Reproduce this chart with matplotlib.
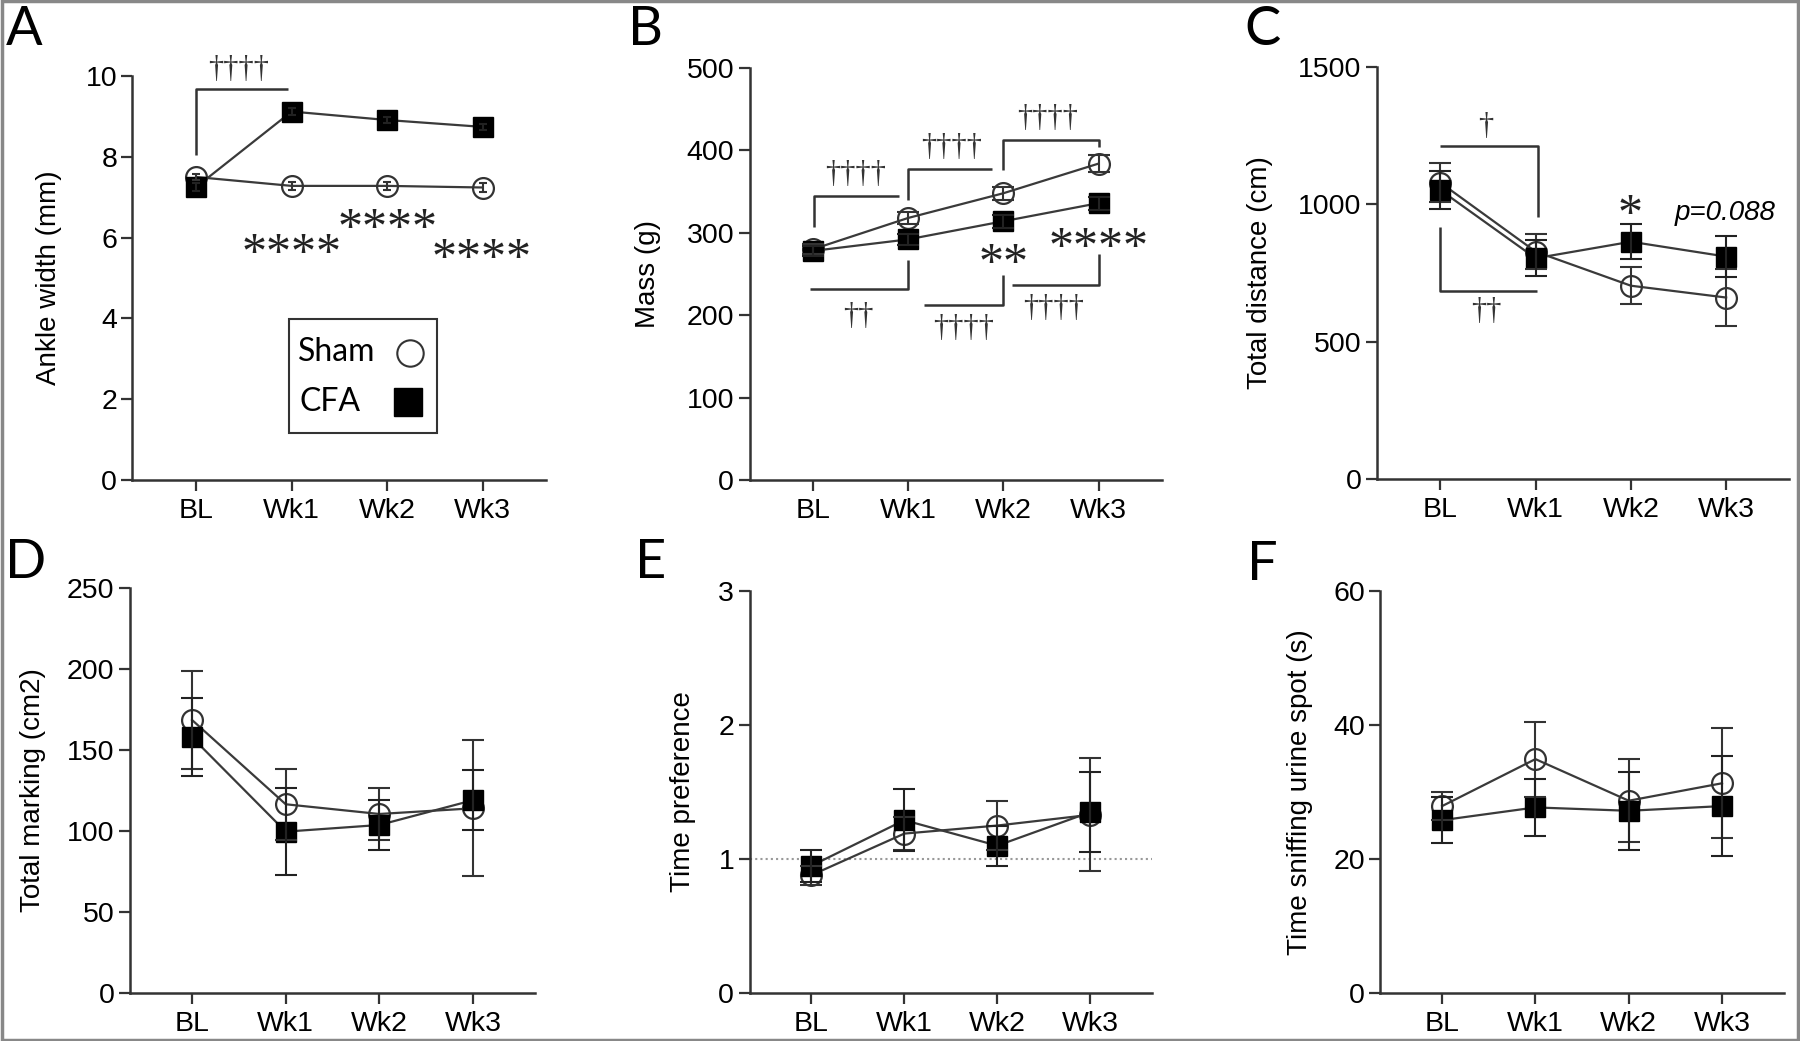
import matplotlib
matplotlib.use('Agg')
import matplotlib.pyplot as plt
from matplotlib.patches import Rectangle
import numpy as np

# ---------------- data ----------------
timepoints = ['BL', 'Wk1', 'Wk2', 'Wk3']

ankle_sham = [7.50, 7.28, 7.28, 7.24]
ankle_sham_err = [0.08, 0.10, 0.10, 0.10]
ankle_cfa = [7.25, 9.12, 8.91, 8.74]
ankle_cfa_err = [0.10, 0.08, 0.08, 0.08]

mass_sham = [280, 318, 348, 384]
mass_sham_err = [6, 7, 8, 10]
mass_cfa = [278, 292, 314, 336]
mass_cfa_err = [6, 7, 8, 8]

dist_sham = [1078, 827, 703, 660]
dist_sham_err = [70, 64, 68, 105]
dist_cfa = [1051, 803, 863, 809]
dist_cfa_err = [70, 65, 64, 76]

mark_sham = [168.5, 116.5, 110.5, 114]
mark_sham_err = [30, 22, 16, 42]
mark_cfa = [157.8, 99.6, 103.7, 119]
mark_cfa_err = [24, 27, 15.5, 18.5]

pref_sham = [0.88, 1.19, 1.25, 1.33]
pref_sham_err = [0.07, 0.12, 0.18, 0.42]
pref_cfa = [0.95, 1.29, 1.10, 1.35]
pref_cfa_err = [0.12, 0.23, 0.15, 0.30]

sniff_sham = [27.9, 34.9, 28.7, 31.3]
sniff_sham_err = [2.1, 5.6, 6.2, 8.2]
sniff_cfa = [25.8, 27.7, 27.2, 27.9]
sniff_cfa_err = [3.4, 4.2, 5.8, 7.5]

ylabels = ['Ankle width (mm)', 'Mass (g)', 'Total distance (cm)',
           'Total marking (cm2)', 'Time preference', 'Time sniffing urine spot (s)']
panel_letters = ['A', 'B', 'C', 'D', 'E', 'F']
yticks_list = [[0, 2, 4, 6, 8, 10], [0, 100, 200, 300, 400, 500], [0, 500, 1000, 1500],
               [0, 50, 100, 150, 200, 250], [0, 1, 2, 3], [0, 20, 40, 60]]

# ---------------- style ----------------
SANS = ['Liberation Sans', 'DejaVu Sans']
SERIF = ['Liberation Serif', 'DejaVu Serif']
plt.rcParams['font.family'] = SANS
AX_C = '#333333'
LINE_C = '#3a3a3a'
EDGE_C = '#333333'

fig = plt.figure(figsize=(18, 10.41), dpi=100)

rects = [[0.0736, 0.5389, 0.2297, 0.3881],
         [0.4164, 0.5389, 0.2289, 0.3958],
         [0.7650, 0.5399, 0.2289, 0.3961],
         [0.0721, 0.0461, 0.2250, 0.3891],
         [0.4164, 0.0458, 0.2234, 0.3868],
         [0.7667, 0.0458, 0.2242, 0.3868]]
label_x = [-0.202, -0.246, -0.284, -0.240, -0.165, -0.198]
letter_pos = [(0.0030, 0.9568), (0.349, 0.9568), (0.6915, 0.9568),
              (0.0025, 0.4448), (0.3530, 0.4448), (0.6925, 0.4428)]
capsizes = [3, 8, 8, 8, 8, 8]

series = [(ankle_sham, ankle_sham_err, ankle_cfa, ankle_cfa_err),
          (mass_sham, mass_sham_err, mass_cfa, mass_cfa_err),
          (dist_sham, dist_sham_err, dist_cfa, dist_cfa_err),
          (mark_sham, mark_sham_err, mark_cfa, mark_cfa_err),
          (pref_sham, pref_sham_err, pref_cfa, pref_cfa_err),
          (sniff_sham, sniff_sham_err, sniff_cfa, sniff_cfa_err)]

axes = []
x = np.arange(len(timepoints))
for i in range(6):
    ax = fig.add_axes(rects[i])
    axes.append(ax)
    ys, es, yc, ec = series[i]
    ax.plot(x, ys, '-', color=LINE_C, lw=1.6, zorder=2)
    ax.plot(x, yc, '-', color=LINE_C, lw=1.6, zorder=2)
    ax.plot(x, ys, 'o', ms=15, mfc='none', mec=EDGE_C, mew=1.6, zorder=3)
    ax.plot(x, yc, 's', ms=14.5, mfc='black', mec='black', mew=1, zorder=3.5)
    ax.errorbar(x, ys, yerr=es, fmt='none', ecolor=EDGE_C, elinewidth=1.5,
                capsize=capsizes[i], capthick=1.5, zorder=4)
    ax.errorbar(x, yc, yerr=ec, fmt='none', ecolor='#222222', elinewidth=1.5,
                capsize=capsizes[i], capthick=1.5, zorder=4)
    yt = yticks_list[i]
    ax.set_ylim(yt[0], yt[-1])
    ax.set_yticks(yt)
    ax.set_xlim(-0.665, 3.66)
    ax.set_xticks(x)
    ax.set_xticklabels(timepoints)
    for s in ['top', 'right']:
        ax.spines[s].set_visible(False)
    for s in ['left', 'bottom']:
        ax.spines[s].set_color(AX_C)
        ax.spines[s].set_linewidth(1.8)
    ax.tick_params(axis='both', direction='out', length=8, width=1.6,
                   color=AX_C, labelsize=20.5, pad=3)
    ax.tick_params(axis='x', pad=5)
    ax.set_ylabel(ylabels[i], fontsize=20)
    ax.yaxis.label.set_va('center')
    ax.yaxis.set_label_coords(label_x[i], 0.5)
    fig.text(letter_pos[i][0], letter_pos[i][1], panel_letters[i],
             fontsize=39, family=['Lato', 'DejaVu Sans'], va='baseline', ha='left')


def bracket(ax, xs, ys):
    ax.plot(xs, ys, color=AX_C, lw=1.8, clip_on=False, zorder=5,
            solid_capstyle='butt')


def dagger(ax, s, xx, yy):
    ax.text(xx, yy, s, fontsize=22, family=SERIF, ha='center', va='center',
            color='#333333', clip_on=False)


def stars(ax, s, xx, yy):
    ax.annotate(s, (xx, yy), xytext=(0, -17), textcoords='offset points',
                fontsize=36, family=SERIF, ha='center', va='baseline',
                color='#222222', annotation_clip=False)


# ---- panel A annotations ----
axA = axes[0]
bracket(axA, [0, 0, 0.963], [8.04, 9.68, 9.68])
dagger(axA, '††††', 0.45, 10.17)
stars(axA, '****', 1.0, 5.86)
stars(axA, '****', 2.0, 6.48)
stars(axA, '****', 2.99, 5.74)
# legend box
axA.add_patch(Rectangle((0.378, 0.116), 0.358, 0.2825, transform=axA.transAxes,
                        fill=False, edgecolor=AX_C, lw=1.5, clip_on=False, zorder=5))
axA.text(0.400, 0.317, 'Sham', transform=axA.transAxes, fontsize=23,
         family=['Lato', 'DejaVu Sans'], va='center', ha='left')
axA.text(0.405, 0.193, 'CFA', transform=axA.transAxes, fontsize=23,
         family=['Lato', 'DejaVu Sans'], va='center', ha='left')
axA.plot([0.671], [0.314], 'o', ms=19, mfc='none', mec=EDGE_C, mew=1.5,
         transform=axA.transAxes, clip_on=False)
axA.plot([0.666], [0.193], 's', ms=20, mfc='black', mec='black',
         transform=axA.transAxes, clip_on=False)

# ---- panel B annotations ----
axB = axes[1]
bracket(axB, [0.01, 0.01, 0.90], [307, 344.7, 344.7])
bracket(axB, [1.0, 1.0, 1.88], [340, 377, 377])
bracket(axB, [2.0, 2.0, 3.0, 3.0], [376, 412.6, 412.6, 404.5])
bracket(axB, [-0.03, 1.0, 1.0], [231.4, 231.4, 267])
bracket(axB, [1.17, 2.0, 2.0], [212.4, 212.4, 248.8])
bracket(axB, [2.09, 3.0, 3.0], [236.7, 236.7, 274.3])
dagger(axB, '††††', 0.445, 371)
dagger(axB, '††††', 1.455, 403)
dagger(axB, '††††', 2.46, 439)
dagger(axB, '††', 0.475, 198)
dagger(axB, '††††', 1.58, 184)
dagger(axB, '††††', 2.53, 208.4)
stars(axB, '**', 2.0, 275)
stars(axB, '****', 3.0, 295)

# ---- panel C annotations ----
axC = axes[2]
bracket(axC, [-0.007, 1.03, 1.03], [1212, 1212, 954])
bracket(axC, [0, 0, 1.016], [918, 685, 685])
dagger(axC, '†', 0.48, 1281)
dagger(axC, '††', 0.48, 608.6)
stars(axC, '*', 1.995, 1000)
axC.text(2.99, 966, 'p=0.088', fontsize=20, style='italic', ha='center',
         va='center', clip_on=False)

# ---- panel E reference line ----
axE = axes[4]
axE.axhline(1, color='#999999', lw=1.5, ls=(0, (1, 1.5)), zorder=1)

# figure border
fig.add_artist(Rectangle((0.001, 0.001), 0.998, 0.998, transform=fig.transFigure,
                         fill=False, edgecolor='#888888', lw=2.5))

fig.savefig('out.png', dpi=100)
